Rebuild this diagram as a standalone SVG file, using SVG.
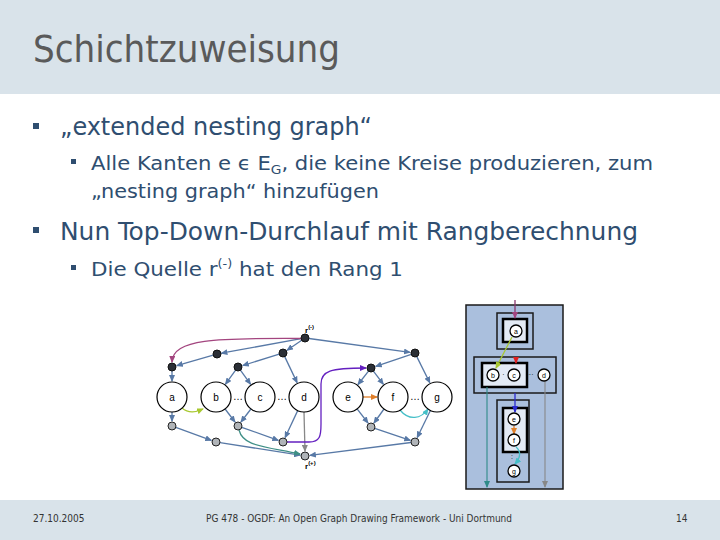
<svg xmlns="http://www.w3.org/2000/svg" width="720" height="540" viewBox="0 0 720 540">
<style>
.body{font-family:"DejaVu Sans Condensed","DejaVu Sans",sans-serif;fill:#2f4e70}
.foot{font-family:"DejaVu Sans Condensed","DejaVu Sans",sans-serif;fill:#333;font-size:10px}
.e{fill:none;stroke:#5879a6;stroke-width:1.3}
.dk{fill:#2b2f36;stroke:#111;stroke-width:1}
.lt{fill:#b0b4b8;stroke:#222;stroke-width:1}
.big{fill:#fff;stroke:#000;stroke-width:1.2}
.lbl{font-family:"Liberation Sans",Arial,sans-serif;font-size:10px;fill:#000;text-anchor:middle}
.rl{font-family:"Liberation Sans",Arial,sans-serif;font-weight:bold;fill:#000}
.sn{fill:#fff;stroke:#000;stroke-width:1.3}
.sl{font-family:"Liberation Sans",Arial,sans-serif;font-size:7px;fill:#000;text-anchor:middle}
.ob{fill:#aabfdd;stroke:#1a1a1a;stroke-width:1.5}
.ib{fill:#e3eaf5;stroke:#000;stroke-width:2.5}
</style>
<defs>
<marker id="ab" markerWidth="7" markerHeight="6" refX="6" refY="3" orient="auto" markerUnits="userSpaceOnUse"><path d="M0,0 L7,3 L0,6 z" fill="#5879a6"/></marker>
<marker id="ag" markerWidth="7" markerHeight="6" refX="6" refY="3" orient="auto" markerUnits="userSpaceOnUse"><path d="M0,0 L7,3 L0,6 z" fill="#888"/></marker>
<marker id="ap" markerWidth="7" markerHeight="6" refX="6" refY="3" orient="auto" markerUnits="userSpaceOnUse"><path d="M0,0 L7,3 L0,6 z" fill="#a3457f"/></marker>
<marker id="av" markerWidth="7" markerHeight="6" refX="6" refY="3" orient="auto" markerUnits="userSpaceOnUse"><path d="M0,0 L7,3 L0,6 z" fill="#6420c0"/></marker>
<marker id="ay" markerWidth="7" markerHeight="6" refX="6" refY="3" orient="auto" markerUnits="userSpaceOnUse"><path d="M0,0 L7,3 L0,6 z" fill="#a8c830"/></marker>
<marker id="ao" markerWidth="7" markerHeight="6" refX="6" refY="3" orient="auto" markerUnits="userSpaceOnUse"><path d="M0,0 L7,3 L0,6 z" fill="#e07f2a"/></marker>
<marker id="ac" markerWidth="7" markerHeight="6" refX="6" refY="3" orient="auto" markerUnits="userSpaceOnUse"><path d="M0,0 L7,3 L0,6 z" fill="#45bfc8"/></marker>
<marker id="agr" markerWidth="7" markerHeight="6" refX="6" refY="3" orient="auto" markerUnits="userSpaceOnUse"><path d="M0,0 L7,3 L0,6 z" fill="#3f8f86"/></marker>
<marker id="ar" markerWidth="7" markerHeight="6" refX="6" refY="3" orient="auto" markerUnits="userSpaceOnUse"><path d="M0,0 L7,3 L0,6 z" fill="#e02020"/></marker>
<marker id="abl" markerWidth="7" markerHeight="6" refX="6" refY="3" orient="auto" markerUnits="userSpaceOnUse"><path d="M0,0 L7,3 L0,6 z" fill="#2a2ad0"/></marker>
<marker id="at" markerWidth="7" markerHeight="6" refX="6" refY="3" orient="auto" markerUnits="userSpaceOnUse"><path d="M0,0 L7,3 L0,6 z" fill="#2e8a88"/></marker>
</defs>

<rect x="0" y="0" width="720" height="540" fill="#fff"/>
<rect x="0" y="0" width="720" height="94" fill="#d9e3ea"/>
<rect x="0" y="500" width="720" height="40" fill="#d9e3ea"/>

<g id="title"><text x="33" y="62" font-family="DejaVu Sans Condensed,DejaVu Sans,sans-serif" font-size="38" fill="#5a5a5a" textLength="307" lengthAdjust="spacingAndGlyphs">Schichtzuweisung</text></g>

<g id="bullets">
<rect x="33" y="123" width="6" height="6" fill="#2f4e70"/>
<text class="body" x="60" y="135" font-size="24" textLength="312" lengthAdjust="spacingAndGlyphs">„extended nesting graph“</text>
<rect x="71" y="159" width="5" height="5" fill="#2f4e70"/>
<text class="body" x="91" y="170" font-size="20" textLength="562" lengthAdjust="spacingAndGlyphs">Alle Kanten e ϵ E<tspan font-size="13" dy="4">G</tspan><tspan dy="-4">, die keine Kreise produzieren, zum</tspan></text>
<text class="body" x="91" y="198" font-size="20" textLength="288" lengthAdjust="spacingAndGlyphs">„nesting graph“ hinzufügen</text>
<rect x="33" y="227" width="6" height="6" fill="#2f4e70"/>
<text class="body" x="60" y="240" font-size="24" textLength="578" lengthAdjust="spacingAndGlyphs">Nun Top-Down-Durchlauf mit Rangberechnung</text>
<rect x="71" y="265" width="5" height="5" fill="#2f4e70"/>
<text class="body" x="91" y="276" font-size="20" textLength="312" lengthAdjust="spacingAndGlyphs">Die Quelle r<tspan font-size="12" dy="-8">(-)</tspan><tspan dy="8"> hat den Rang 1</tspan></text>
</g>

<g id="connectors">
<path class="e" d="M301.1,338.7 L221.4,353.2" marker-end="url(#ab)"/>
<path class="e" d="M301.7,340.3 L287.1,350.2" marker-end="url(#ab)"/>
<path class="e" d="M309,338.5 L410,352.3" marker-end="url(#ab)"/>
<path class="e" d="M213.2,355.1 L176.8,365.6" marker-end="url(#ab)"/>
<path class="e" d="M279.2,354.2 L242.8,365.5" marker-end="url(#ab)"/>
<path class="e" d="M284.7,356.6 L297.1,382.6" marker-end="url(#ab)"/>
<path class="e" d="M235.6,370.2 L225.5,384.1" marker-end="url(#ab)"/>
<path class="e" d="M240.4,370.2 L250.5,384.1" marker-end="url(#ab)"/>
<path class="e" d="M172,371 L172,381" marker-end="url(#ab)"/>
<path class="e" d="M411.2,354.3 L375.7,366.4" marker-end="url(#ab)"/>
<path class="e" d="M416.8,356.6 L429.8,382.7" marker-end="url(#ab)"/>
<path class="e" d="M368.5,371.1 L358,384.5" marker-end="url(#ab)"/>
<path class="e" d="M373.4,371.2 L383.3,384.2" marker-end="url(#ab)"/>
<path class="e" d="M172,412 L172,421" marker-end="url(#ab)"/>
<path class="e" d="M175.8,427.4 L211.3,440.3" marker-end="url(#ab)"/>
<path class="e" d="M220,442.6 L300.1,455.2" marker-end="url(#ab)"/>
<path class="e" d="M225.1,409 L235,422" marker-end="url(#ab)"/>
<path class="e" d="M250.9,409 L241,422" marker-end="url(#ab)"/>
<path class="e" d="M241.8,427.3 L278.3,440.3" marker-end="url(#ab)"/>
<path class="e" d="M297.7,410.6 L285.1,437.5" marker-end="url(#ab)"/>
<path class="e" d="M357.1,408.9 L368,423" marker-end="url(#ab)"/>
<path class="e" d="M384,409 L374,423" marker-end="url(#ab)"/>
<path class="e" d="M374.8,428.3 L410.3,440.4" marker-end="url(#ab)"/>
<path class="e" d="M430.4,410.5 L417.2,437.5" marker-end="url(#ab)"/>
<path class="e" d="M411,442.5 L309.9,455.4" marker-end="url(#ab)"/>
<path d="M304,412 L305,451" fill="none" stroke="#888" stroke-width="1.3" marker-end="url(#ag)"/>
<path d="M239,430 C 243,446 262,446 300,454" fill="none" stroke="#3f8f86" stroke-width="1.3" marker-end="url(#agr)"/>
<path d="M301,338.5 C 215,338 173,339 172,362" fill="none" stroke="#a3457f" stroke-width="1.3" marker-end="url(#ap)"/>
<path d="M287,442 L309,442 C 320,442 321,436 321,424 L321,384 C 321,371 330,368 366,368" fill="none" stroke="#6420c0" stroke-width="1.3" marker-end="url(#av)"/>
<path d="M182,408 C 189,414 196,412 203,409" fill="none" stroke="#a8c830" stroke-width="1.3" marker-end="url(#ay)"/>
<path d="M363,397 L377,397" fill="none" stroke="#e07f2a" stroke-width="1.3" marker-end="url(#ao)"/>
<path d="M400,410 C 409,421 421,419 428,409" fill="none" stroke="#45bfc8" stroke-width="1.3" marker-end="url(#ac)"/>
</g>

<g id="graph-nodes">
<g id="rminus"><circle class="dk" cx="305" cy="338" r="4"/><text class="rl" x="305" y="333" font-size="8">r<tspan font-size="6" dy="-4">(-)</tspan></text></g>
<g id="n-d1"><circle class="dk" cx="217" cy="354" r="4"/></g>
<g id="n-d2"><circle class="dk" cx="283" cy="353" r="4"/></g>
<g id="n-d3"><circle class="dk" cx="415" cy="353" r="4"/></g>
<g id="n-at"><circle class="dk" cx="172" cy="367" r="4"/></g>
<g id="n-bt"><circle class="dk" cx="238" cy="367" r="4"/></g>
<g id="n-et"><circle class="dk" cx="371" cy="368" r="4"/></g>
<g id="n-a"><circle class="big" cx="172" cy="397" r="15"/><text class="lbl" x="172" y="401">a</text></g>
<g id="n-b"><circle class="big" cx="216" cy="397" r="15"/><text class="lbl" x="216" y="401">b</text></g>
<g id="n-c"><circle class="big" cx="260" cy="397" r="15"/><text class="lbl" x="260" y="401">c</text></g>
<g id="n-d"><circle class="big" cx="304" cy="397" r="15"/><text class="lbl" x="304" y="401">d</text></g>
<g id="n-e"><circle class="big" cx="348" cy="397" r="15"/><text class="lbl" x="348" y="401">e</text></g>
<g id="n-f"><circle class="big" cx="393" cy="397" r="15"/><text class="lbl" x="393" y="401">f</text></g>
<g id="n-g"><circle class="big" cx="437" cy="397" r="15"/><text class="lbl" x="437" y="401">g</text></g>
<g id="dots"><text class="lbl" x="238" y="400">…</text><text class="lbl" x="282" y="400">…</text><text class="lbl" x="415" y="400">…</text></g>
<g id="n-ab"><circle class="lt" cx="172" cy="426" r="4"/></g>
<g id="n-bb"><circle class="lt" cx="238" cy="426" r="4"/></g>
<g id="n-eb"><circle class="lt" cx="371" cy="427" r="4"/></g>
<g id="n-l1"><circle class="lt" cx="216" cy="442" r="4"/></g>
<g id="n-l2"><circle class="lt" cx="283" cy="442" r="4"/></g>
<g id="n-l3"><circle class="lt" cx="415" cy="442" r="4"/></g>
<g id="rplus"><circle class="lt" cx="305" cy="456" r="4"/><text class="rl" x="305" y="469" font-size="8">r<tspan font-size="6" dy="-4">(+)</tspan></text></g>
</g>

<g id="cluster-view">
<rect class="ob" x="466" y="305" width="97" height="184"/>
<g id="box-a"><rect class="ob" x="497" y="313" width="36" height="36"/><rect class="ib" x="503" y="319" width="24" height="23"/></g>
<g id="box-bcd"><rect class="ob" x="474" y="357" width="82" height="36"/><rect class="ib" x="482" y="363" width="45" height="24"/></g>
<g id="box-efg"><rect class="ob" x="497" y="400" width="32" height="82"/><rect class="ib" x="503" y="408" width="24" height="44"/></g>
<g id="cluster-edges">
<path d="M515,300 L515,318" stroke="#8a3a70" stroke-width="1.3" fill="none" marker-end="url(#ap)"/>
<path d="M512,337 L496,368" stroke="#a8c830" stroke-width="1.3" fill="none" marker-end="url(#ay)"/>
<path d="M516,357 L516,363" stroke="#e02020" stroke-width="1.3" fill="none" marker-end="url(#ar)"/>
<path d="M487,387 L487,487" stroke="#2e8a88" stroke-width="1.1" fill="none" marker-end="url(#at)"/>
<path d="M545,381 L545,487" stroke="#888" stroke-width="1.1" fill="none" marker-end="url(#ag)"/>
<path d="M515,393 L515,412" stroke="#2a2ad0" stroke-width="1.3" fill="none" marker-end="url(#abl)"/>
<path d="M514,426 L514,434" stroke="#e07f2a" stroke-width="1.3" fill="none" marker-end="url(#ao)"/>
<path d="M516,447 C 522,452 520,458 515,464" stroke="#45bfc8" stroke-width="1.3" fill="none" marker-end="url(#ac)"/>
</g>
<g id="s-a"><circle class="sn" cx="516" cy="331" r="6"/><text class="sl" x="516" y="333.5">a</text></g>
<g id="s-b"><circle class="sn" cx="493" cy="375" r="6"/><text class="sl" x="493" y="377.5">b</text></g>
<g id="s-c"><circle class="sn" cx="514" cy="375" r="6"/><text class="sl" x="514" y="377.5">c</text></g>
<g id="s-d"><circle class="sn" cx="544" cy="375" r="6"/><text class="sl" x="544" y="377.5">d</text></g>
<g id="s-e"><circle class="sn" cx="514" cy="419" r="6"/><text class="sl" x="514" y="421.5">e</text></g>
<g id="s-f"><circle class="sn" cx="514" cy="440" r="6"/><text class="sl" x="514" y="442.5">f</text></g>
<g id="s-g"><circle class="sn" cx="514" cy="471" r="6"/><text class="sl" x="514" y="473.5">g</text></g>
<text class="sl" x="503.5" y="377">·</text>
<text class="sl" x="530" y="377">···</text>
<text class="sl" x="512" y="459">:</text>
</g>

<g id="footer">
<text class="foot" x="33" y="522">27.10.2005</text>
<text class="foot" x="206" y="522" textLength="306" lengthAdjust="spacingAndGlyphs">PG 478 - OGDF: An Open Graph Drawing Framework - Uni Dortmund</text>
<text class="foot" x="676" y="522">14</text>
</g>
</svg>
